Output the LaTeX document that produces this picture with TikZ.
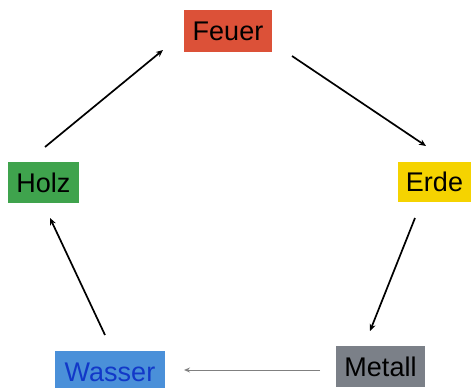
\documentclass[tikz,border=0pt]{standalone}
\usepackage{fontspec}
\setmainfont{Liberation Sans}
\usetikzlibrary{arrows.meta}
\definecolor{cfeuer}{HTML}{DC5138}
\definecolor{cholz}{HTML}{3FA34D}
\definecolor{cerde}{HTML}{F5D300}
\definecolor{cwasser}{HTML}{4A90D9}
\definecolor{cwtext}{HTML}{1238C8}
\definecolor{cmetall}{HTML}{7B8088}
\begin{document}
\begin{tikzpicture}[x=1pt,y=-1pt,
  elem/.style={inner sep=0pt, outer sep=0pt, font=\fontsize{27}{31}\selectfont, text=black},
  conn/.style={line width=1.7pt, -{Stealth[length=7pt,width=6pt]}},
  thinconn/.style={line width=0.9pt, draw=gray, -{Stealth[length=6pt,width=5pt,open,fill=white]}}]
\useasboundingbox (0,0) rectangle (471,388);
\node[elem, fill=cfeuer, minimum width=88pt, minimum height=42pt] (Feuer) at (228,31) {Feuer};
\node[elem, fill=cholz, minimum width=71pt, minimum height=41pt] (Holz) at (43.5,182.5) {Holz};
\node[elem, fill=cerde, minimum width=73pt, minimum height=40pt] (Erde) at (434.5,182) {Erde};
\node[elem, fill=cwasser, minimum width=110pt, minimum height=42pt, text=cwtext] (Wasser) at (110,372) {Wasser};
\node[elem, fill=cmetall, minimum width=89pt, minimum height=41pt] (Metall) at (380.5,366.5) {Metall};
\coordinate (h1) at (45,147);
\coordinate (f1) at (163,50);
\coordinate (f2) at (292,56);
\coordinate (e1) at (426,146);
\coordinate (e2) at (415,218);
\coordinate (m1) at (370,331);
\coordinate (m2) at (320,370);
\coordinate (w1) at (184,370);
\coordinate (w2) at (105,335);
\coordinate (h2) at (50,218);
\draw[conn] (h1) -- (f1);
\draw[conn] (f2) -- (e1);
\draw[conn] (e2) -- (m1);
\draw[thinconn] (m2) -- (w1);
\draw[conn] (w2) -- (h2);
\end{tikzpicture}
\end{document}
